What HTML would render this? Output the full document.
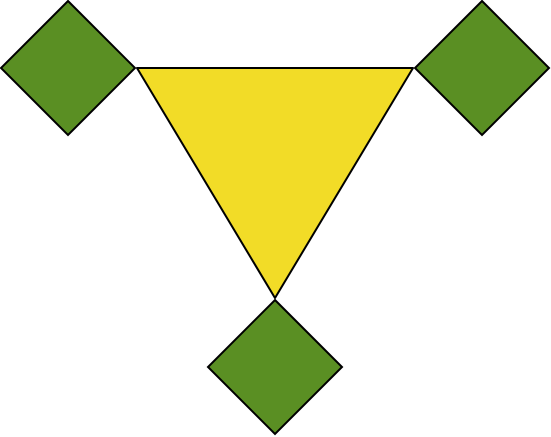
<!DOCTYPE html>
<html>
<head>
<meta charset="utf-8">
<style>
html,body{margin:0;padding:0;background:#fff;}
svg{display:block;}
</style>
</head>
<body>
<svg width="551" height="437" viewBox="0 0 551 437">
  <polygon points="137,68 413,68 275,298" fill="#f2dc27" stroke="#000" stroke-width="2" stroke-linejoin="round"/>
  <polygon points="68,1 135,68 68,135 1,68" fill="#5a8f23" stroke="#000" stroke-width="2"/>
  <polygon points="482,1 549,68 482,135 415,68" fill="#5a8f23" stroke="#000" stroke-width="2"/>
  <polygon points="275,300 342,367 275,434 208,367" fill="#5a8f23" stroke="#000" stroke-width="2"/>
</svg>
</body>
</html>
